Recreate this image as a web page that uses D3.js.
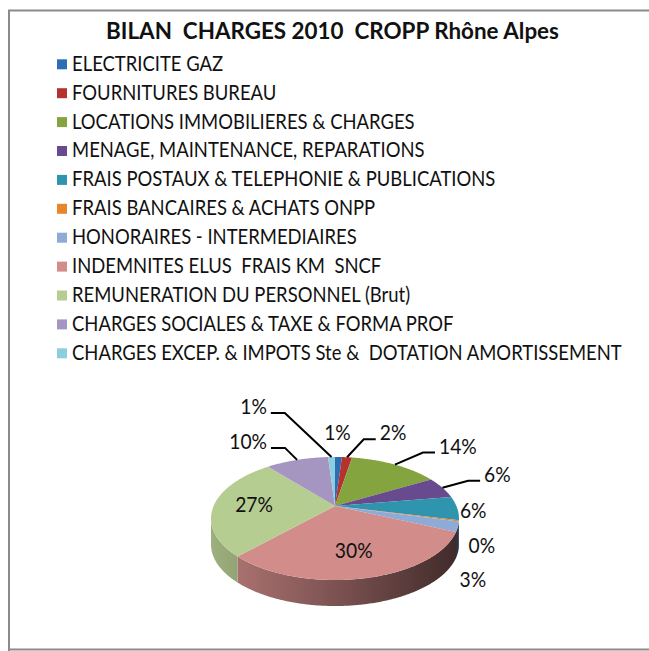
<!DOCTYPE html>
<html lang="fr">
<head>
<meta charset="UTF-8">
<title>BILAN CHARGES 2010 CROPP Rhône Alpes</title>
<script src="https://cdn.jsdelivr.net/npm/d3@7"></script>
<style>
    body { margin: 0; background: #fff; }
    svg { display: block; }
    text { font-family: Lato, "Open Sans", sans-serif; white-space: pre; fill: #111; }
    .title { font-weight: bold; font-size: 23px; }
    .legend text { font-size: 20.5px; }
    .lbl { font-size: 20.5px; }
    .leader { fill: none; stroke: #000; stroke-width: 2; }
</style>
</head>
<body>
<svg width="649" height="651"></svg>
<script>
// data
var title = "BILAN  CHARGES 2010  CROPP Rhône Alpes";
var categories = [
    "ELECTRICITE GAZ",
    "FOURNITURES BUREAU",
    "LOCATIONS IMMOBILIERES & CHARGES",
    "MENAGE, MAINTENANCE, REPARATIONS",
    "FRAIS POSTAUX & TELEPHONIE & PUBLICATIONS",
    "FRAIS BANCAIRES & ACHATS ONPP",
    "HONORAIRES - INTERMEDIAIRES",
    "INDEMNITES ELUS  FRAIS KM  SNCF",
    "REMUNERATION DU PERSONNEL (Brut)",
    "CHARGES SOCIALES & TAXE & FORMA PROF",
    "CHARGES EXCEP. & IMPOTS Ste &  DOTATION AMORTISSEMENT"
];
// share of total charges, in percent
var values = [1.1, 1.6, 14.1, 5.7, 6.2, 0.3, 2.6, 30.4, 27.0, 9.9, 1.1];
var colors = ["#2d6db3", "#b5332f", "#83a43e", "#684b8e", "#2f95ae", "#e8862e",
              "#8eaad6", "#d28d8a", "#b6cd91", "#a596c1", "#8ccde0"];

// label placement (Excel "best fit"): offset of label centre from the rim point, and leader flag
var labelNudge = [[-1, -24, 0], [46, -24, 1], [63, -18, 1], [55, -13, 1], [16, 3, 0], [23, 25, 0],
                  [15, 53, 0], null, null, [-49, -18, 1], [-78, -50, 1]];

var width = 649, height = 651;
var svg = d3.select("svg");

svg.append("rect").attr("width", width).attr("height", height).attr("fill", "#fff");
svg.append("path")
    .attr("d", "M9,651V10.5H649M9,649.5H649")
    .attr("fill", "none").attr("stroke", "#8a8a8a").attr("stroke-width", 2);

// Lato is wider than the Calibri of the original, so narrow the text horizontally
function placeText(sel, x, y, f) {
    return sel.attr("x", 0).attr("y", 0)
        .attr("transform", "translate(" + x + "," + y + ") scale(" + f + ",1)");
}

placeText(svg.append("text").attr("class", "title"), 332.5, 38.5, 0.975)
    .attr("text-anchor", "middle")
    .text(title);

// legend
var legend = svg.append("g").attr("class", "legend")
    .selectAll("g").data(categories).enter().append("g")
    .attr("transform", function(d, i) { return "translate(57," + (59.3 + i * 28.9) + ")"; });
legend.append("rect").attr("width", 10).attr("height", 10)
    .attr("fill", function(d, i) { return colors[i]; });
legend.append("text")
    .attr("transform", "translate(15,11.4) scale(0.9,1)")
    .text(function(d) { return d; });

// 3D pie with perspective
var cx = 335, cy = 506, S = 121.4, T = 59, persp = 0.203, depth = 26;

function proj(a, r, drop) {
    var x = r * Math.sin(a), z = r * Math.cos(a), w = 1 + persp * z;
    return [cx + S * x / w, cy - T * z / w + (drop || 0)];
}
function rim(a0, a1, drop) {
    var n = Math.max(2, Math.ceil(Math.abs(a1 - a0) / 0.01)), pts = [];
    for (var i = 0; i <= n; i++) pts.push(proj(a0 + (a1 - a0) * i / n, 1, drop));
    return pts;
}

var arcs = d3.pie().sort(null).value(function(d) { return d; })(values);

var defs = svg.append("defs");
arcs.forEach(function(d, i) {
    var c = d3.color(colors[i]);
    var g = defs.append("linearGradient").attr("id", "side" + i)
        .attr("gradientUnits", "userSpaceOnUse")
        .attr("x1", cx - S * 1.03).attr("x2", cx + S * 1.03).attr("y1", 0).attr("y2", 0);
    [[0, 0.86], [0.45, 0.62], [1, 0.3]].forEach(function(s) {
        g.append("stop").attr("offset", s[0])
            .attr("stop-color", d3.rgb(c.r * s[1], c.g * s[1], c.b * s[1]));
    });
});

var line = d3.line();
var front0 = Math.PI / 2 + Math.asin(persp), front1 = 3 * Math.PI / 2 - Math.asin(persp);

var sides = svg.append("g");
arcs.forEach(function(d, i) {
    var lo = Math.max(d.startAngle, front0), hi = Math.min(d.endAngle, front1);
    if (lo >= hi) return;
    var pts = rim(lo, hi, 0).concat(rim(hi, lo, depth));
    sides.append("path").attr("d", line(pts) + "Z").attr("fill", "url(#side" + i + ")");
});

var tops = svg.append("g");
arcs.forEach(function(d, i) {
    var pts = [[cx, cy]].concat(rim(d.startAngle, d.endAngle, 0));
    tops.append("path").attr("d", line(pts) + "Z")
        .attr("fill", colors[i]);
});

// data labels
var labels = svg.append("g");
var lblScale = 0.94;
arcs.forEach(function(d, i) {
    var mid = (d.startAngle + d.endAngle) / 2;
    var txt = d3.format(".0f")(d.value) + "%";
    var nudge = labelNudge[i], p, a;
    if (!nudge) {
        p = proj(mid, 0.67, 0);
    } else {
        a = proj(mid, 1, 0);
        p = [a[0] + nudge[0], a[1] + nudge[1]];
    }
    var t = placeText(labels.append("text").attr("class", "lbl"), p[0], p[1] + 7, lblScale)
        .attr("text-anchor", "middle").text(txt);
    if (nudge && nudge[2]) {
        var w = t.node().getComputedTextLength() * lblScale, rightSide = p[0] > a[0];
        var ex = rightSide ? p[0] - w / 2 - 4 : p[0] + w / 2 + 4;
        var ey = p[1] + 6;
        var bx = rightSide ? ex - 12 : ex + 14;
        labels.append("path").attr("class", "leader")
            .attr("d", line([a, [bx, ey], [ex, ey]]));
    }
});
</script>
</body>
</html>
